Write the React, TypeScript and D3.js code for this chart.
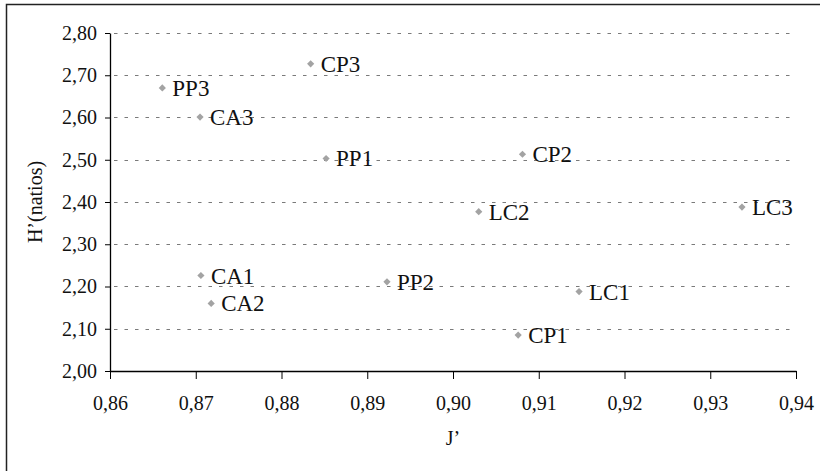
import React, { useEffect, useRef } from 'react';
import * as d3 from 'd3';

// Sample codes and their evenness (J') / diversity (H') values
const sites = ['PP3', 'CA3', 'CP3', 'PP1', 'CP2', 'LC2', 'LC3', 'CA1', 'CA2', 'PP2', 'LC1', 'CP1'];
const jValues = [0.8661, 0.8705, 0.8834, 0.8852, 0.9081, 0.903, 0.9337, 0.8706, 0.8718, 0.8923, 0.9147, 0.9076];
const hValues = [2.67, 2.601, 2.727, 2.503, 2.513, 2.377, 2.388, 2.226, 2.16, 2.211, 2.188, 2.085];

const xTicks = [0.86, 0.87, 0.88, 0.89, 0.9, 0.91, 0.92, 0.93, 0.94];
const yTicks = [2.0, 2.1, 2.2, 2.3, 2.4, 2.5, 2.6, 2.7, 2.8];

const App: React.FC = () => {
  const svgRef = useRef<SVGSVGElement>(null);

  useEffect(() => {
    if (!svgRef.current) return;
    const root = d3.select(svgRef.current);
    root.selectAll('*').remove();

    const svgWidth = 820;
    const svgHeight = 471;
    const margin = { top: 33, right: 24, bottom: 100, left: 110 };
    const width = svgWidth - margin.left - margin.right;
    const height = svgHeight - margin.top - margin.bottom;
    const font = 'Liberation Serif';

    root.attr('width', svgWidth).attr('height', svgHeight);

    // Outer frame (only top/left edges are visible in the crop)
    root.append('rect')
      .attr('x', 6.5)
      .attr('y', 4.5)
      .attr('width', svgWidth + 20)
      .attr('height', svgHeight + 20)
      .attr('fill', '#fff')
      .attr('stroke', '#222')
      .attr('stroke-width', 1.5);

    const svg = root.append('g')
      .attr('transform', `translate(${margin.left},${margin.top})`);

    const xScale = d3.scaleLinear().domain([0.86, 0.94]).range([0, width]);
    const yScale = d3.scaleLinear().domain([2.0, 2.8]).range([height, 0]);
    const fmt = (n: number) => n.toFixed(2).replace('.', ',');

    // Dotted horizontal gridlines
    svg.append('g')
      .selectAll('line')
      .data(yTicks.slice(1))
      .enter()
      .append('line')
      .attr('x1', 4)
      .attr('x2', width)
      .attr('y1', d => Math.round(yScale(d)) + 0.5)
      .attr('y2', d => Math.round(yScale(d)) + 0.5)
      .attr('stroke', '#7a7a7a')
      .attr('stroke-width', 1.2)
      .attr('stroke-dasharray', '3.5,7');

    // X axis
    const xAxis = svg.append('g')
      .attr('transform', `translate(0,${height})`)
      .call(d3.axisBottom(xScale).tickValues(xTicks).tickFormat(d => fmt(+d)).tickSize(8).tickSizeOuter(0));
    xAxis.select('.domain').attr('stroke', '#000').attr('stroke-width', 1.3);
    xAxis.selectAll('line').attr('stroke', '#000');
    xAxis.selectAll('text')
      .attr('y', 25)
      .attr('dy', '0.71em')
      .style('font-family', font)
      .style('font-size', '20px')
      .attr('fill', '#111');

    // Y axis
    const yAxis = svg.append('g')
      .call(d3.axisLeft(yScale).tickValues(yTicks).tickFormat(d => fmt(+d)).tickSize(5).tickSizeOuter(0));
    yAxis.select('.domain').attr('stroke', '#000').attr('stroke-width', 1.3);
    yAxis.selectAll('line').attr('stroke', '#000');
    yAxis.selectAll('text')
      .attr('x', -13)
      .style('font-family', font)
      .style('font-size', '20px')
      .attr('fill', '#111');

    // Axis titles
    svg.append('text')
      .attr('x', xScale(0.9))
      .attr('y', height + 74)
      .style('text-anchor', 'middle')
      .style('font-family', font)
      .style('font-size', '20px')
      .attr('fill', '#111')
      .text('J’');

    svg.append('text')
      .attr('transform', 'rotate(-90)')
      .attr('x', -height / 2)
      .attr('y', -margin.left + 42)
      .style('text-anchor', 'middle')
      .style('font-family', font)
      .style('font-size', '20px')
      .attr('fill', '#111')
      .text('H’(natios)');

    // Points
    const points = sites.map((s, i) => ({ label: s, x: jValues[i], y: hValues[i] }));
    const diamond = d3.symbol().type(d3.symbolSquare).size(26);

    svg.selectAll('.pt')
      .data(points)
      .enter()
      .append('path')
      .attr('class', 'pt')
      .attr('d', diamond)
      .attr('transform', d => `translate(${xScale(d.x)},${yScale(d.y)}) rotate(45)`)
      .attr('fill', '#a3a3a3');

    svg.selectAll('.lbl')
      .data(points)
      .enter()
      .append('text')
      .attr('class', 'lbl')
      .attr('x', d => xScale(d.x) + 10)
      .attr('y', d => yScale(d.y) + 8)
      .style('font-family', font)
      .style('font-size', '23px')
      .attr('fill', '#111')
      .text(d => d.label);
  }, []);

  return (
    <svg ref={svgRef} style={{ position: 'absolute', left: 0, top: 0, width: 820, height: 471 }}></svg>
  );
};

export default App;
